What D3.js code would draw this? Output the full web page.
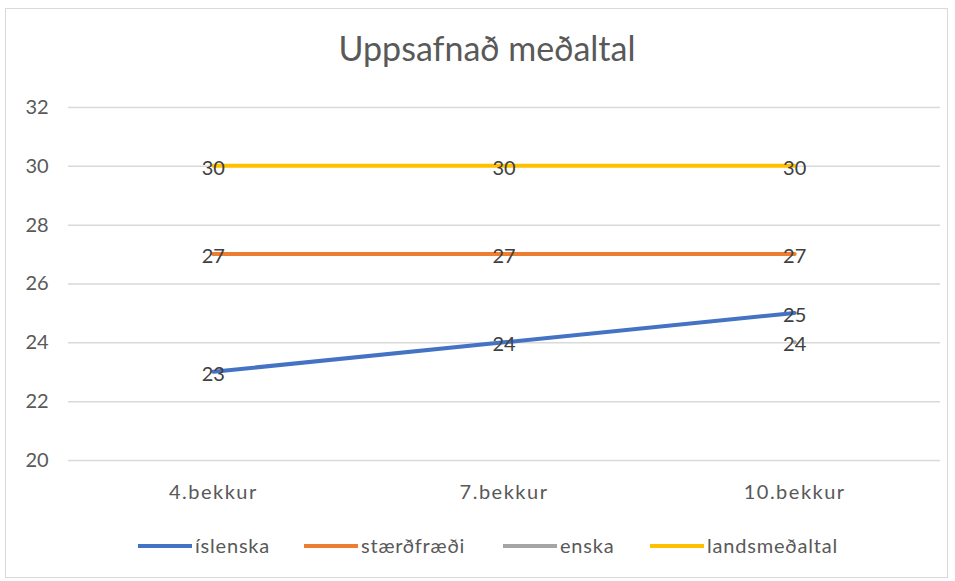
<!DOCTYPE html>
<html>
<head>
<meta charset="utf-8">
<script src="https://cdn.jsdelivr.net/npm/d3@7"></script>
<style>
  body { margin: 0; background: #fff; }
  svg text { font-family: Lato, "Open Sans", sans-serif; fill: #595959; }
</style>
</head>
<body>
<svg id="chart" width="955" height="581"></svg>
<script>
var categories = ["4.bekkur", "7.bekkur", "10.bekkur"];
var seriesNames = ["íslenska", "stærðfræði", "enska", "landsmeðaltal"];
var islenska = [23, 24, 25];
var staerdfraedi = [27, 27, 27];
var enska = [null, null, 24];
var landsmedaltal = [30, 30, 30];
var yTicks = [20, 22, 24, 26, 28, 30, 32];
var colors = ["#4472C4", "#ED7D31", "#A5A5A5", "#FFC000"];

var allSeries = [islenska, staerdfraedi, enska, landsmedaltal];

var svg = d3.select("#chart");
var W = 955, H = 581;
var margin = {left: 68, right: 15, top: 107, bottom: 121};

// ramminn utan um
svg.append("rect")
  .attr("x", 5.5).attr("y", 8.5)
  .attr("width", 942).attr("height", 569)
  .attr("fill", "#fff")
  .attr("stroke", "#D9D9D9");

svg.append("text")
  .attr("x", 487).attr("y", 61)
  .attr("text-anchor", "middle")
  .attr("font-size", "34px")
  .text("Uppsafnað meðaltal");

var x = d3.scaleBand().domain(categories)
  .range([margin.left, W - margin.right]);
var y = d3.scaleLinear().domain([20, 32])
  .range([H - margin.bottom, margin.top]);

// gridlines
svg.append("g").selectAll("line").data(yTicks).enter().append("line")
  .attr("x1", margin.left).attr("x2", W - margin.right)
  .attr("y1", function(d){ return y(d) + 0.5; })
  .attr("y2", function(d){ return y(d) + 0.5; })
  .attr("stroke", "#D9D9D9").attr("stroke-width", 1.5);

var yAxis = svg.append("g")
  .attr("transform", "translate(" + (margin.left - 10) + ",0)")
  .call(d3.axisLeft(y).tickValues(yTicks).tickSize(0).tickPadding(0));
yAxis.select(".domain").remove();
yAxis.selectAll("text").attr("font-size", "20px").attr("x", -21).attr("text-anchor", "middle");

var xAxis = svg.append("g")
  .attr("transform", "translate(0," + (H - margin.bottom) + ")")
  .call(d3.axisBottom(x).tickSize(0).tickPadding(25));
xAxis.select(".domain").remove();
xAxis.selectAll("text").attr("font-size", "20px").attr("letter-spacing", "1.5px");

var line = d3.line()
  .defined(function(d){ return d != null; })
  .x(function(d, i){ return x(categories[i]) + x.bandwidth() / 2; })
  .y(function(d){ return y(d); });

allSeries.forEach(function(vals, s){
  svg.append("path")
    .datum(vals)
    .attr("d", line)
    .attr("fill", "none")
    .attr("stroke", colors[s])
    .attr("stroke-width", 4)
    .attr("stroke-linecap", "round");
});

// gildismerki
allSeries.forEach(function(vals, s){
  vals.forEach(function(v, i){
    if (v == null) return;
    svg.append("text")
      .attr("x", x(categories[i]) + x.bandwidth() / 2)
      .attr("y", y(v))
      .attr("dy", "0.45em")
      .attr("text-anchor", "middle")
      .attr("font-size", "20px")
      .style("fill", "#404040")
      .text(v);
  });
});

// legend
var legendX = [138, 304, 503, 650];
var lg = svg.append("g").attr("transform", "translate(0,546)");
seriesNames.forEach(function(name, s){
  lg.append("line")
    .attr("x1", legendX[s]).attr("x2", legendX[s] + 54)
    .attr("y1", 0).attr("y2", 0)
    .attr("stroke", colors[s]).attr("stroke-width", 4);
  lg.append("text")
    .attr("x", legendX[s] + 57).attr("y", 0)
    .attr("dy", "0.35em")
    .attr("font-size", "20px")
    .attr("letter-spacing", "0.8px")
    .text(name);
});
</script>
</body>
</html>
